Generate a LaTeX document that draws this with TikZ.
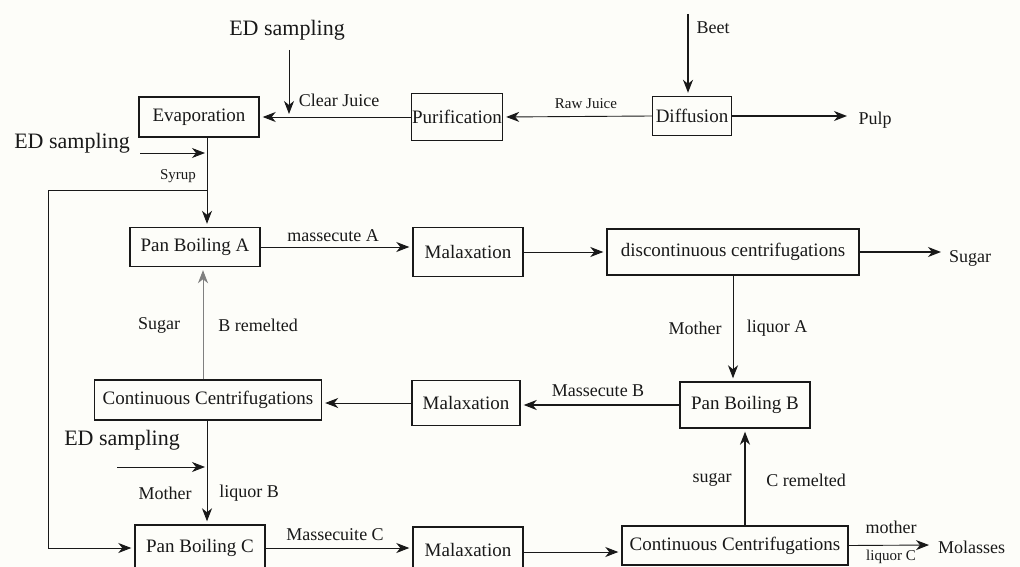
\documentclass[tikz,border=0pt]{standalone}
\usepackage{fontspec}
\setmainfont{Liberation Serif}
\usetikzlibrary{arrows.meta}
\definecolor{bg}{RGB}{253,253,249}
\definecolor{ink}{RGB}{25,25,25}
\begin{document}
\begin{tikzpicture}[x=1pt,y=-1pt,
  box/.style={draw=ink, line width=1.4pt, inner sep=0pt, text=ink, font=\fontsize{19}{21}\selectfont},
  lab/.style={inner sep=0pt, text=ink, font=\fontsize{18}{20}\selectfont},
  small/.style={inner sep=0pt, text=ink, font=\fontsize{15}{17}\selectfont},
  big/.style={inner sep=0pt, text=ink, font=\fontsize{22}{24}\selectfont},
  conn/.style={draw=ink, line width=0.9pt},
  flow/.style={conn, -{Stealth[length=13pt,width=10pt,inset=4pt]}, shorten >=3pt},
  heavy/.style={line width=1.4pt},
]
\useasboundingbox (0,0) rectangle (1020,567);
\fill[bg] (0,0) rectangle (1020,567);
\clip (0,0) rectangle (1020,567);

% boxes
\node[box, minimum width=120, minimum height=40] (evap) at (199,117) {Evaporation};
\node[box, minimum width=91, minimum height=47] (puri) at (457,117) {Purification};
\node[box, minimum width=79, minimum height=39] (diff) at (692,116) {Diffusion};
\node[box, minimum width=130, minimum height=39] (pba) at (195,247) {Pan Boiling A};
\node[box, minimum width=110, minimum height=49] (mal1) at (468,252) {Malaxation};
\node[box, minimum width=252, minimum height=46] (dc) at (733,252) {discontinuous centrifugations};
\node[box, minimum width=130, minimum height=46] (pbb) at (745,405) {Pan Boiling B};
\node[box, minimum width=108, minimum height=45] (mal2) at (466,403) {Malaxation};
\node[box, minimum width=227, minimum height=40] (cc1) at (208,400) {Continuous Centrifugations};
\node[box, minimum width=130, minimum height=46] (pbc) at (200,548) {Pan Boiling C};
\node[box, minimum width=110, minimum height=46] (mal3) at (468,550) {Malaxation};
\node[box, minimum width=226, minimum height=39] (cc2) at (735,545.5) {Continuous Centrifugations};

% helper x positions
\coordinate (sx) at (207,0);
\coordinate (rbx) at (203,0);
\coordinate (mx) at (733,0);
\coordinate (cx) at (745,0);

% top row
\draw[flow] (diff.west) -- (puri.east);
\node[small] (rawj) at (586,104) {Raw Juice};
\draw[flow] (puri.west) -- (evap.east);
\node[lab] (clearj) at (339,100) {Clear Juice};
\node[big] (ed1) at (287,30) {ED sampling};
\coordinate (ed1s) at (289,50);
\draw[flow] (ed1s) -- (ed1s |- evap.east);
\coordinate (beet) at (688,14);
\draw[flow, heavy] (beet) -- (beet |- diff.north);
\node[lab] (beetl) at (713,28) {Beet};
\coordinate (pulp) at (850,116);
\draw[flow, heavy] (diff.east) -- (pulp);
\node[lab] (pulpl) at (875,120) {Pulp};

% left ED sampling and syrup
\node[big] (ed2) at (72,143) {ED sampling};
\coordinate (ed2s) at (140,153);
\coordinate (ed2e) at (208,153);
\draw[flow] (ed2s) -- (ed2e);
\node[small] (syrup) at (178,176) {Syrup};
\draw[flow] (evap.south -| sx) -- (pba.north -| sx);
\coordinate (br) at (207,190);
\coordinate (lx) at (48,190);
\draw[flow] (br) -- (lx) -- (lx |- pbc.west) -- (pbc.west);

% row A
\draw[flow] (pba.east) -- (pba.east -| mal1.west);
\node[lab] (mA) at (333,236) {massecute A};
\draw[flow] (mal1.east) -- (dc.west);
\coordinate (sug) at (944,252);
\draw[flow, heavy] (dc.east) -- (sug);
\node[lab] (sugl) at (970,258) {Sugar};
\draw[flow] (dc.south -| mx) -- (pbb.north -| mx);
\node[lab] (mothA) at (695,328) {Mother};
\node[lab] (liqA) at (777,328) {liquor A};

% row B
\draw[flow, heavy] (pbb.west) -- (pbb.west -| mal2.east);
\node[lab] (mB) at (598,391) {Massecute B};
\draw[flow] (mal2.west) -- (mal2.west -| cc1.east);
\draw[flow, draw=gray] (cc1.north -| rbx) -- (pba.south -| rbx);
\node[lab] (sugB) at (159,325) {Sugar};
\node[lab] (remB) at (258,325) {B remelted};
\draw[flow] (cc1.south -| sx) -- (pbc.north -| sx);
\node[big] (ed3) at (122,440) {ED sampling};
\coordinate (ed3s) at (117,467);
\coordinate (ed3e) at (208,467);
\draw[flow] (ed3s) -- (ed3e);
\node[lab] (mothB) at (165,493) {Mother};
\node[lab] (liqB) at (249,493) {liquor B};

% row C
\draw[flow] (pbc.east) -- (pbc.east -| mal3.west);
\node[lab] (mC) at (335,535) {Massecuite C};
\coordinate (m3e) at ([yshift=-2pt]mal3.east);
\draw[flow] (m3e) -- (m3e -| cc2.west);
\draw[flow, heavy] (cc2.north -| cx) -- (pbb.south -| cx);
\node[lab] (sugC) at (712,480) {sugar};
\node[lab] (remC) at (806,480) {C remelted};
\coordinate (mol) at (932,545);
\draw[flow] (cc2.east) -- (mol);
\node[lab] (mothC) at (891,527) {mother};
\node[small] (liqC) at (891,557) {liquor C};
\node[lab, anchor=west] (moll) at (938,547) {Molasses};
\end{tikzpicture}
\end{document}
